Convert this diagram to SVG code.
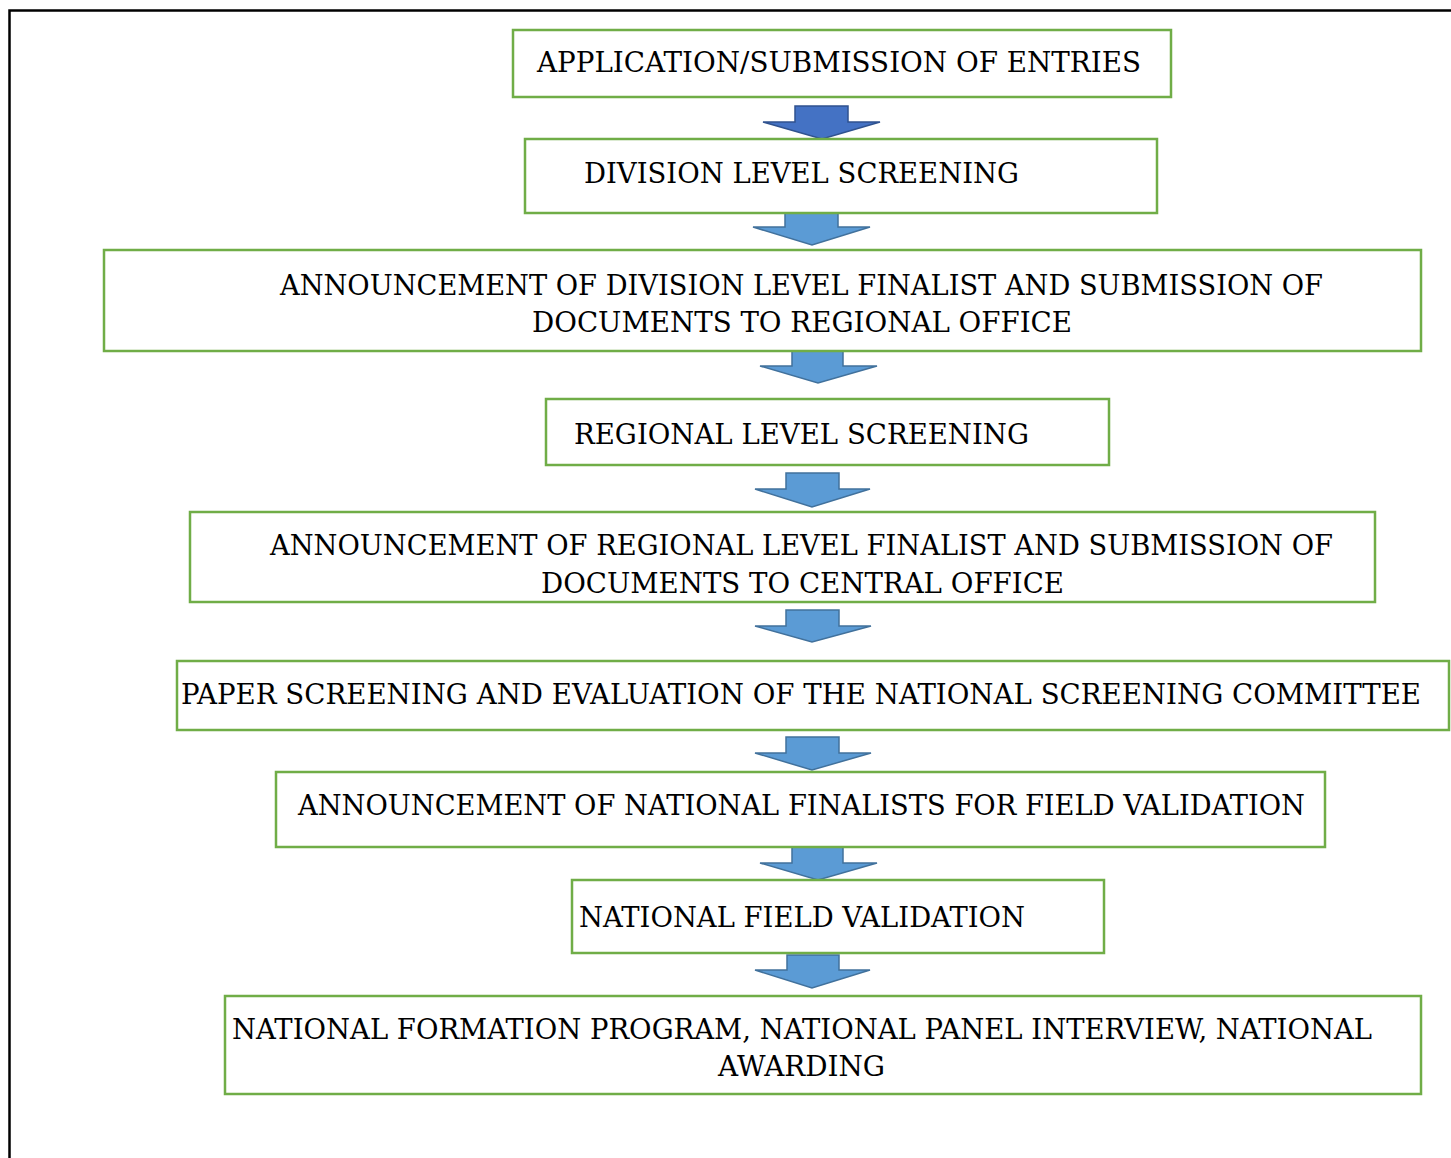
<svg xmlns="http://www.w3.org/2000/svg" width="1451" height="1158" viewBox="0 0 1451 1158">
<style>
.box{fill:#fff;stroke:#70AD47;stroke-width:2.5}
.t{font-family:"DejaVu Serif","Liberation Serif",serif;font-size:27px;fill:#000}
.a1{fill:#4472C4;stroke:#2F528F;stroke-width:1.5}
.a{fill:#5B9BD5;stroke:#41719C;stroke-width:1.5}
</style>
<rect width="1451" height="1158" fill="#fff"/>
<path d="M9.5 1158 V10.5 H1451" fill="none" stroke="#000" stroke-width="2.5"/>
<g id="connectors">
<path class="a1" d="M795 106 H848 V122 H880 L822 139 L763 122 H795 Z"/>
<path class="a" d="M785 212 H838 V227 H870 L812 245 L753 227 H785 Z"/>
<path class="a" d="M792 351 H843 V366 H877 L818 383 L760 366 H792 Z"/>
<path class="a" d="M786 473 H839 V489 H870 L812 507 L755 489 H786 Z"/>
<path class="a" d="M786 610 H839 V626 H871 L812 642 L755 626 H786 Z"/>
<path class="a" d="M786 737 H839 V753 H871 L812 770 L755 753 H786 Z"/>
<path class="a" d="M792 847 H843 V863 H877 L818 880 L760 863 H792 Z"/>
<path class="a" d="M787 955 H839 V970 H870 L812 988 L755 970 H787 Z"/>
</g>
<g id="n1"><rect class="box" x="513" y="30" width="658" height="67"/><text class="t" x="537" y="72" textLength="604" lengthAdjust="spacingAndGlyphs">APPLICATION/SUBMISSION OF ENTRIES</text></g>
<g id="n2"><rect class="box" x="525" y="139" width="632" height="74"/><text class="t" x="584" y="183" textLength="435" lengthAdjust="spacingAndGlyphs">DIVISION LEVEL SCREENING</text></g>
<g id="n3"><rect class="box" x="104" y="250" width="1317" height="101"/><text class="t" x="280" y="295" textLength="1043" lengthAdjust="spacingAndGlyphs">ANNOUNCEMENT OF DIVISION LEVEL FINALIST AND SUBMISSION OF</text><text class="t" x="532" y="332" textLength="540" lengthAdjust="spacingAndGlyphs">DOCUMENTS TO REGIONAL OFFICE</text></g>
<g id="n4"><rect class="box" x="546" y="399" width="563" height="66"/><text class="t" x="574" y="444" textLength="455" lengthAdjust="spacingAndGlyphs">REGIONAL LEVEL SCREENING</text></g>
<g id="n5"><rect class="box" x="190" y="512" width="1185" height="90"/><text class="t" x="270" y="555" textLength="1063" lengthAdjust="spacingAndGlyphs">ANNOUNCEMENT OF REGIONAL LEVEL FINALIST AND SUBMISSION OF</text><text class="t" x="541" y="593" textLength="523" lengthAdjust="spacingAndGlyphs">DOCUMENTS TO CENTRAL OFFICE</text></g>
<g id="n6"><rect class="box" x="177" y="661" width="1272" height="69"/><text class="t" x="181" y="704" textLength="1240" lengthAdjust="spacingAndGlyphs">PAPER SCREENING AND EVALUATION OF THE NATIONAL SCREENING COMMITTEE</text></g>
<g id="n7"><rect class="box" x="276" y="772" width="1049" height="75"/><text class="t" x="298" y="815" textLength="1007" lengthAdjust="spacingAndGlyphs">ANNOUNCEMENT OF NATIONAL FINALISTS FOR FIELD VALIDATION</text></g>
<g id="n8"><rect class="box" x="572" y="880" width="532" height="73"/><text class="t" x="579" y="927" textLength="446" lengthAdjust="spacingAndGlyphs">NATIONAL FIELD VALIDATION</text></g>
<g id="n9"><rect class="box" x="225" y="996" width="1196" height="98"/><text class="t" x="232" y="1039" textLength="1140" lengthAdjust="spacingAndGlyphs">NATIONAL FORMATION PROGRAM, NATIONAL PANEL INTERVIEW, NATIONAL</text><text class="t" x="718" y="1076" textLength="167" lengthAdjust="spacingAndGlyphs">AWARDING</text></g>
</svg>
